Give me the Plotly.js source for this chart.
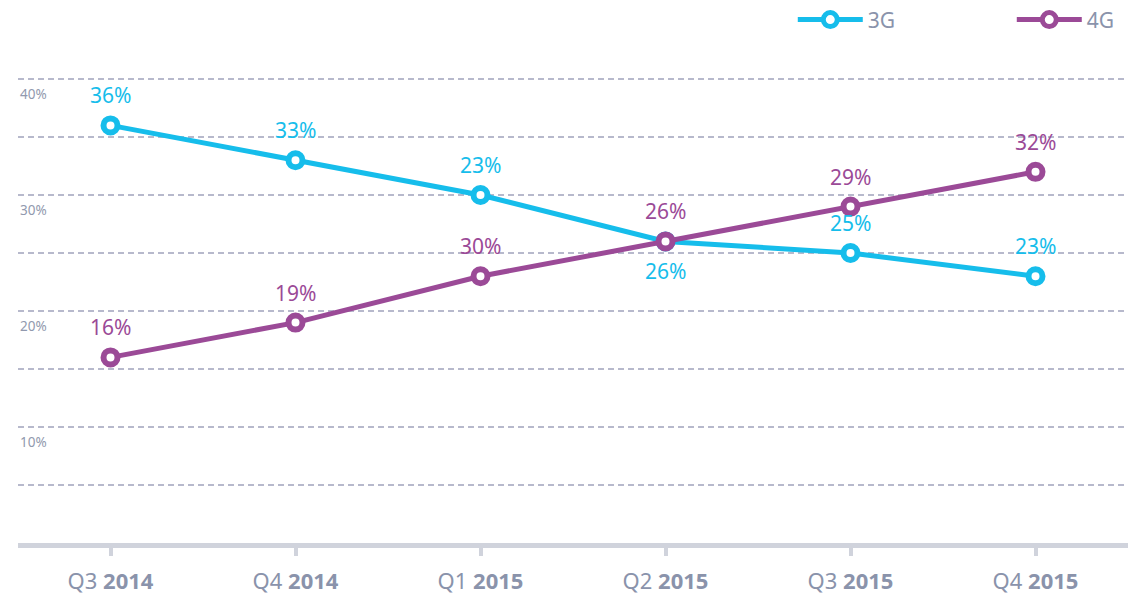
<!DOCTYPE html>
<html>
<head>
<meta charset="utf-8">
<script src="https://cdn.plot.ly/plotly-3.0.1.min.js"></script>
<style>html,body{margin:0;padding:0;background:#fff;}#chart{width:1137px;height:595px;}</style>
</head>
<body>
<div id="chart"></div>
<script>
const quarters = ['Q3', 'Q4', 'Q1', 'Q2', 'Q3', 'Q4'];
const years = ['2014', '2014', '2015', '2015', '2015', '2015'];
const values3G = [36, 33, 30, 26, 25, 23];
const values4G = [16, 19, 23, 26, 29, 32];
const labels3G = ['36%', '33%', '23%', '26%', '25%', '23%'];
const labels4G = ['16%', '19%', '30%', '26%', '29%', '32%'];
const labelSide3G = [1, 1, 1, -1, 1, 1];
const labelSide4G = [1, 1, 1, 1, 1, 1];
const yTickVals = [10, 20, 30, 40];
const yTickText = ['10%', '20%', '30%', '40%'];

const FONT = 'Noto Sans, Open Sans, sans-serif';
const C3 = '#16bdeb';
const C4 = '#9b4a97';
const GREY = '#8a93ab';

const categories = quarters.map((q, i) => q + ' ' + years[i]);
const xIdx = categories.map((_, i) => i);
const tickText = quarters.map((q, i) => q + ' <b>' + years[i] + '</b>');

function series(name, vals, color) {
  return {
    type: 'scatter', mode: 'lines+markers', name: name,
    x: xIdx, y: vals,
    line: {color: color, width: 5},
    marker: {size: 14, color: '#ffffff', line: {color: color, width: 6}},
    cliponaxis: false, hoverinfo: 'skip'
  };
}

const traces = [
  series('3G', values3G, C3),
  series('4G', values4G, C4)
];

function valueLabels(vals, labels, sides, color) {
  return vals.map((v, i) => ({
    xref: 'x', yref: 'y', x: xIdx[i], y: v, text: labels[i],
    showarrow: false, xanchor: 'center', yanchor: 'middle',
    yshift: sides[i] * 30,
    font: {family: FONT, size: 21, color: color}
  }));
}

const annotations = yTickVals.map((v, i) => ({
  xref: 'paper', yref: 'y', x: 0, y: v, text: yTickText[i],
  showarrow: false, xanchor: 'left', yanchor: 'top', yshift: -4,
  font: {family: FONT, size: 13.5, color: '#9199ae'}
})).concat(
  valueLabels(values3G, labels3G, labelSide3G, C3),
  valueLabels(values4G, labels4G, labelSide4G, C4)
);

const layout = {
  width: 1137, height: 595,
  margin: {l: 18, r: 9, t: 76, b: 52, autoexpand: false},
  paper_bgcolor: '#ffffff', plot_bgcolor: '#ffffff',
  font: {family: FONT, color: GREY},
  showlegend: true,
  legend: {
    orientation: 'h', x: 0.698, xanchor: 'left', y: 1.12, yanchor: 'middle',
    font: {family: FONT, size: 21, color: '#8a93ab'},
    entrywidth: 139, entrywidthmode: 'pixels', itemwidth: 65,
    traceorder: 'normal'
  },
  xaxis: {
    range: [-0.5, 5.5], tickmode: 'array', tickvals: xIdx, ticktext: tickText,
    showgrid: false, zeroline: false,
    showline: true, linecolor: '#d0d3dc', linewidth: 5,
    ticks: 'outside', ticklen: 8, tickwidth: 4, tickcolor: '#d0d3dc',
    ticklabelstandoff: 7,
    tickfont: {family: FONT, size: 22, color: GREY},
    fixedrange: true
  },
  yaxis: {
    range: [0, 40.26], dtick: 5, tick0: 0,
    showticklabels: false, zeroline: false,
    showgrid: true, gridcolor: '#b7b9cc', gridwidth: 1.3, griddash: '6px,4px',
    fixedrange: true
  },
  annotations: annotations
};

Plotly.newPlot('chart', traces, layout, {displayModeBar: false, staticPlot: true});
</script>
</body>
</html>
